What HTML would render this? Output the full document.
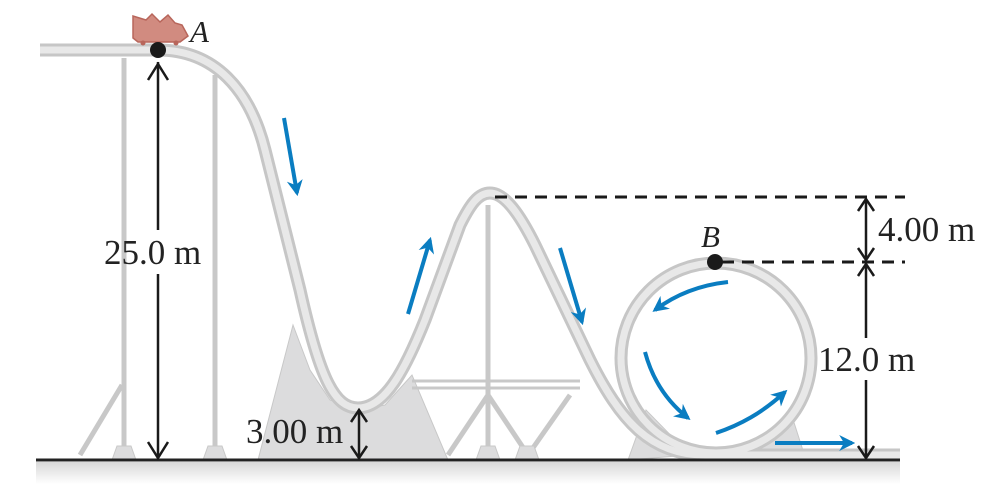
<!DOCTYPE html>
<html><head><meta charset="utf-8"><style>
html,body{margin:0;padding:0;background:#fff;width:998px;height:494px;overflow:hidden}
svg{display:block}
text{font-family:"Liberation Serif",serif;fill:#222}
</style></head><body>
<svg width="998" height="494" viewBox="0 0 998 494">
<defs>
<linearGradient id="gnd" x1="0" y1="0" x2="0" y2="1"><stop offset="0" stop-color="#d8d8d8"/><stop offset="1" stop-color="#fff"/></linearGradient>
<marker id="bh" viewBox="0 0 10 10" refX="8" refY="5" markerWidth="4" markerHeight="4" orient="auto"><path d="M0,0 L10,5 L0,10 L3,5 Z" fill="#0a7dc1"/></marker>
</defs>
<rect x="36" y="462" width="864" height="22" fill="url(#gnd)"/>
<g fill="#dcdcdd" stroke="#c8c8c8">
<polygon points="258,460 293,325 310,370 330,400 358,410 385,405 412,375 448,460"/>
<polygon points="628,460 646,410 690,455"/>
<polygon points="745,455 790,410 806,460"/>
<g stroke="#c8c8c8" stroke-width="5" fill="none">
<line x1="124" y1="58" x2="124" y2="455"/><line x1="215" y1="75" x2="215" y2="455"/>
<line x1="488" y1="205" x2="488" y2="455"/>
<line x1="80" y1="455" x2="122" y2="385"/>
<line x1="412" y1="381" x2="580" y2="381" stroke-width="3"/>
<line x1="412" y1="388" x2="580" y2="388" stroke-width="3"/>
<line x1="448" y1="455" x2="488" y2="395"/><line x1="488" y1="395" x2="528" y2="455"/><line x1="528" y1="455" x2="570" y2="395"/>
</g>
<polygon points="112,460 117,446 131,446 136,460"/><polygon points="203,460 208,446 222,446 227,460"/>
<polygon points="476,460 481,446 495,446 500,460"/><polygon points="515,460 520,446 534,446 539,460"/>
</g>
<g fill="none" stroke-linecap="butt">
<path d="M40,50 L158,50 C215,50 250,90 265,150 L300,290 C320,380 335,408 358,408 C385,408 405,370 425,320 L460,225 C470,205 478,193 490,193 C505,193 520,215 535,245 L590,360 C620,420 650,455 705,455 L720,455 M715,455 L900,455" stroke="#c6c6c6" stroke-width="13"/>
<circle cx="716" cy="358" r="95" stroke="#c6c6c6" stroke-width="13"/>
<path d="M40,50 L158,50 C215,50 250,90 265,150 L300,290 C320,380 335,408 358,408 C385,408 405,370 425,320 L460,225 C470,205 478,193 490,193 C505,193 520,215 535,245 L590,360 C620,420 650,455 705,455 L720,455 M715,455 L900,455" stroke="#e8e8e8" stroke-width="7"/>
<circle cx="716" cy="358" r="95" stroke="#e8e8e8" stroke-width="7"/>
</g>
<line x1="36" y1="460" x2="900" y2="460" stroke="#222" stroke-width="3"/>
<g>
<path d="M133,38 L133,16 L146,20 L152,14 L160,22 L168,15 L175,23 L182,25 L188,36 L180,42 L138,42 Z" fill="#d18b80" stroke="#b8665b" stroke-width="1.5"/>
<circle cx="143" cy="43" r="2.5" fill="#b8665b"/><circle cx="176" cy="43" r="2.5" fill="#b8665b"/>
</g>
<circle cx="158" cy="50" r="8" fill="#1a1a1a"/>
<circle cx="715" cy="262" r="8" fill="#1a1a1a"/>
<text x="190" y="42" font-size="31" font-style="italic">A</text>
<text x="701" y="247" font-size="31" font-style="italic">B</text>
<g stroke="#1a1a1a" stroke-width="2.5" fill="none">
<line x1="158" y1="62" x2="158" y2="230"/><line x1="158" y1="274" x2="158" y2="458"/>
<polyline points="148,80 158,64 168,80"/><polyline points="148,442 158,458 168,442"/>
<line x1="359" y1="412" x2="359" y2="458"/>
<polyline points="351,422 359,410 367,422"/><polyline points="351,446 359,458 367,446"/>
<line x1="866" y1="199" x2="866" y2="260"/>
<polyline points="858,211 866,199 874,211"/><polyline points="858,248 866,260 874,248"/>
<line x1="866" y1="264" x2="866" y2="338"/><line x1="866" y1="380" x2="866" y2="458"/>
<polyline points="858,276 866,264 874,276"/><polyline points="858,446 866,458 874,446"/>
<line x1="495" y1="197" x2="905" y2="197" stroke-dasharray="12,8" stroke-width="3"/>
<line x1="722" y1="262" x2="905" y2="262" stroke-dasharray="12,8" stroke-width="3"/>
</g>
<text x="104" y="264" font-size="35">25.0 m</text>
<text x="246" y="443" font-size="35">3.00 m</text>
<text x="878" y="241" font-size="35">4.00 m</text>
<text x="818" y="371" font-size="35">12.0 m</text>
<g stroke="#0a7dc1" stroke-width="4" fill="none" marker-end="url(#bh)">
<line x1="284" y1="118" x2="297" y2="193"/>
<line x1="408" y1="314" x2="430" y2="240"/>
<line x1="560" y1="248" x2="582" y2="322"/>
<path d="M728,282 C700,285 675,295 655,310"/>
<path d="M645,352 C652,378 665,400 688,418"/>
<path d="M716,433 C740,425 762,413 785,392"/>
<line x1="775" y1="443" x2="852" y2="443"/>
</g>
</svg>
</body></html>
